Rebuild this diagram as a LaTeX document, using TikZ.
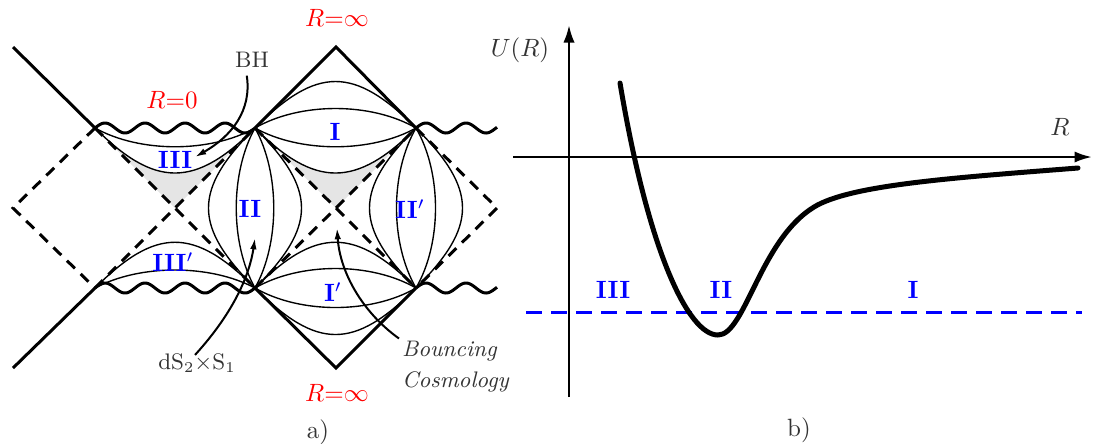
\documentclass[tikz,border=0pt]{standalone}
\usetikzlibrary{arrows.meta}
\definecolor{lbl}{gray}{0.2}
\definecolor{shade}{gray}{0.9}
\begin{document}
\begin{tikzpicture}[x=0.4pt,y=-0.4pt,
  thickl/.style={line width=1.2pt},
  thinl/.style={line width=0.55pt},
  dashl/.style={line width=1.2pt, dash pattern=on 4.4pt off 3.2pt},
  grayfill/.style={fill=shade},
  roman/.style={text=blue, font=\bfseries, inner sep=1pt},
  redl/.style={text=red, inner sep=1pt},
  note/.style={text=lbl, font=\small, inner sep=1pt},
  ptr/.style={line width=0.8pt, -{Latex[length=4.5pt,width=2.6pt]}},
  axis/.style={line width=1pt, -{Latex[length=7pt,width=4.5pt]}},
  wavy/.style={line width=1.2pt, line join=round},
]
\useasboundingbox (0,0) rectangle (1093,443);
% ---------- key points (a) ----------
\coordinate (A) at (95,128);
\coordinate (B) at (255,128);
\coordinate (C) at (416,128);
\coordinate (D) at (95,288);
\coordinate (E) at (255,288);
\coordinate (F) at (416,288);
\coordinate (X1) at (175,208);
\coordinate (X2) at (336,208);
\coordinate (Lc) at (13,208);
\coordinate (Rc) at (497,208);
\coordinate (Tp) at (336,47);
\coordinate (Bt) at (336,368);
\coordinate (TL) at (13,47);
\coordinate (BL) at (13,368);
% ---------- gray fills ----------
\fill[grayfill] (A) .. controls +(60,60) and +(-60,60) .. (B) -- (X1) -- cycle;
\fill[grayfill] (B) .. controls +(60,60) and +(-60,60) .. (C) -- (X2) -- cycle;
% ---------- region I ----------
\draw[thinl] (B) .. controls +(62,-62) and +(-62,-62) .. (C);
\draw[thinl] (B) .. controls +(45,-26) and +(-45,-26) .. (C);
\draw[thinl] (B) .. controls +(45,25) and +(-45,25) .. (C);
\draw[thinl] (B) .. controls +(60,60) and +(-60,60) .. (C);
% ---------- region III ----------
\draw[thinl] (A) .. controls +(45,25) and +(-45,25) .. (B);
\draw[thinl] (A) .. controls +(60,60) and +(-60,60) .. (B);
% ---------- region III' ----------
\draw[thinl] (D) .. controls +(61,-61) and +(-61,-61) .. (E);
\draw[thinl] (D) .. controls +(45,-24) and +(-45,-24) .. (E);
% ---------- region I' ----------
\draw[thinl] (E) .. controls +(61,-61) and +(-61,-61) .. (F);
\draw[thinl] (E) .. controls +(45,-26) and +(-45,-26) .. (F);
\draw[thinl] (E) .. controls +(45,26) and +(-45,26) .. (F);
\draw[thinl] (E) .. controls +(62,62) and +(-62,62) .. (F);
% ---------- region II ----------
\draw[thinl] (B) .. controls +(-62,62) and +(-62,-62) .. (E);
\draw[thinl] (B) .. controls +(-25,45) and +(-25,-45) .. (E);
\draw[thinl] (B) .. controls +(25,45) and +(25,-45) .. (E);
\draw[thinl] (B) .. controls +(62,62) and +(62,-62) .. (E);
% ---------- region II' ----------
\draw[thinl] (C) .. controls +(-62,62) and +(-62,-62) .. (F);
\draw[thinl] (C) .. controls +(-26,45) and +(-26,-45) .. (F);
\draw[thinl] (C) .. controls +(26,45) and +(26,-45) .. (F);
\draw[thinl] (C) .. controls +(62,62) and +(62,-62) .. (F);
% ---------- dashed horizons ----------
\draw[dashl] (A) -- (Lc) -- (D);
\draw[dashl] (A) -- (X1) -- (E);
\draw[dashl] (D) -- (X1) -- (B);
\draw[dashl] (B) -- (X2) -- (F);
\draw[dashl] (E) -- (X2) -- (C);
\draw[dashl] (C) -- (Rc) -- (F);
% ---------- solid boundaries ----------
\draw[thickl, line join=miter] (TL) -- (A);
\draw[thickl] (D) -- (BL);
\draw[thickl, line join=miter] (B) -- (Tp) -- (C);
\draw[thickl, line join=miter] (E) -- (Bt) -- (F);
% ---------- singularities ----------
\draw[wavy] plot[domain=0:160, samples=121] ({95+\x},{128-5*sin(9*\x)});
\draw[wavy] plot[domain=0:81, samples=61] ({416+\x},{128-5*sin(9*\x)});
\draw[wavy] plot[domain=0:160, samples=121] ({95+\x},{288-5*sin(9*\x)});
\draw[wavy] plot[domain=0:81, samples=61] ({416+\x},{288-5*sin(9*\x)});
% ---------- labels (a) ----------
\node[redl] (rinfT) at (337,18) {$R{=}\infty$};
\node[redl] (rzero) at (172,100) {$R{=}0$};
\node[redl] (rinfB) at (337,393) {$R{=}\infty$};
\node[roman] (lIII) at (175,160) {III};
\node[roman] (lII) at (250,209) {II};
\node[roman] (lI) at (335,132) {I};
\node[roman] (lIIp) at (410,209) {II$'$};
\node[roman] (lIIIp) at (173,262) {III$'$};
\node[roman] (lIp) at (333,292) {I$'$};
\node[note] (bh) at (252,60) {BH};
\node[note] (ds) at (197,363) {$\mathrm{dS}_2{\times}\mathrm{S}_1$};
\node[note, font={\fontsize{9}{12.4}\selectfont\itshape}, align=left, anchor=west] (bc) at (399,367) {Bouncing\\Cosmology};
\node[note, font=\normalsize] (capa) at (318,432) {a)};
% ---------- pointers ----------
\coordinate (bhT) at (195,157);
\coordinate (dsT) at (255,238);
\coordinate (bcT) at (337,228);
\draw[ptr, shorten <=2pt] (bh.south) ++(-6,0) .. controls (252,110) and (232,136) .. (bhT);
\draw[ptr] (ds.north) ++(-2,4) .. controls (236,310) and (250,272) .. (dsT);
\draw[ptr] (bc.north west) .. controls (362,312) and (340,272) .. (bcT);
% ---------- plot (b) ----------
\coordinate (vB) at (569,397);
\coordinate (vT) at (569,25);
\coordinate (hL) at (513,157);
\coordinate (hR) at (1092,157);
\draw[axis] (vB) -- (vT);
\draw[axis] (hL) -- (hR);
\draw[blue, line width=1.2pt, dash pattern=on 6.4pt off 3.6pt] (526,312) -- (1082,312);
\draw[line width=2pt, line cap=round, line join=round]
  (620,83) .. controls (648,250) and (688,335) .. (718,335)
  .. controls (745,335) and (760,240) .. (814,207)
  .. controls (850,185) and (950,178) .. (1078,168);
\node[note, font=\normalsize] (ulab) at (520,50) {$U(R)$};
\node[note, font=\normalsize] (rlab) at (1060,127) {$R$};
\node[roman] (pIII) at (613,290) {III};
\node[roman] (pII) at (721,290) {II};
\node[roman] (pI) at (913,290) {I};
\node[note, font=\normalsize] (capb) at (799,430) {b)};
\end{tikzpicture}
\end{document}
